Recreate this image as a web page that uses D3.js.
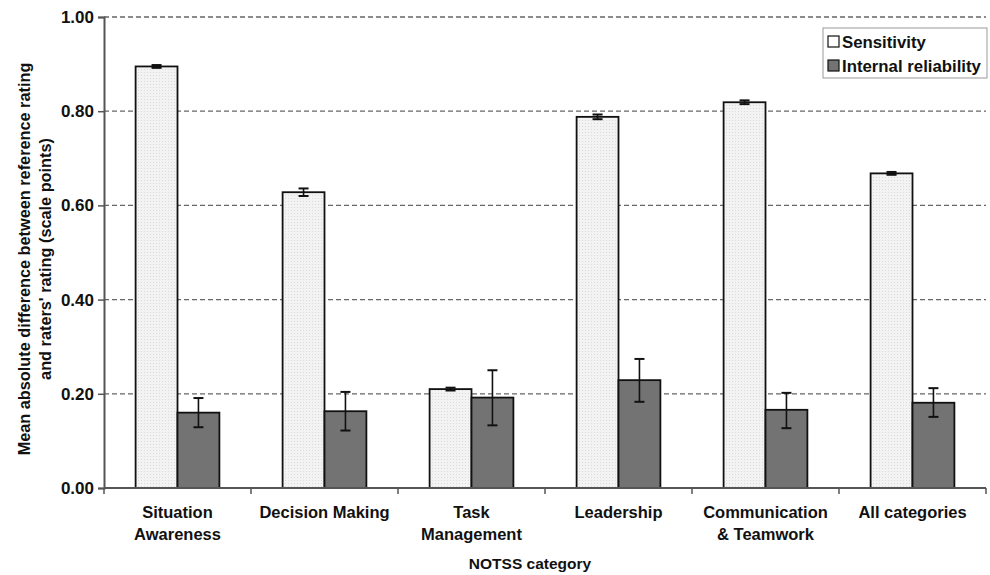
<!DOCTYPE html>
<html><head><meta charset="utf-8">
<script src="https://cdn.jsdelivr.net/npm/d3@7"></script>
<style>body{margin:0;background:#fff}svg{display:block;font-family:"Liberation Sans",Arial,sans-serif;font-weight:bold}</style>
</head><body><svg id="c" width="990" height="575"></svg>
<script>
const categories = [["Situation","Awareness"],["Decision Making"],["Task","Management"],["Leadership"],["Communication","& Teamwork"],["All categories"]];
const seriesNames = ["Sensitivity","Internal reliability"];
const sensitivity = [0.895,0.628,0.210,0.788,0.819,0.668];
const sensitivityErr = [0.003,0.008,0.003,0.005,0.004,0.003];
const internalRel = [0.160,0.163,0.192,0.229,0.166,0.181];
const internalLow = [0.129,0.122,0.133,0.183,0.127,0.151];
const internalHigh = [0.191,0.204,0.250,0.274,0.202,0.212];
const yTicks = [0,0.2,0.4,0.6,0.8,1.0];
const colors = ["#efefef","#737373"];

const svg = d3.select("#c");
const m = {l:104, r:986, t:17, b:488};
const x = d3.scaleBand().domain(d3.range(categories.length)).range([m.l,m.r]).paddingInner(0).paddingOuter(0);
const y = d3.scaleLinear().domain([0,1]).range([m.b,m.t]);
const barW = x.bandwidth()*0.285;

const defs = svg.append("defs");
const pat = defs.append("pattern").attr("id","dots").attr("width",3).attr("height",3).attr("patternUnits","userSpaceOnUse");
pat.append("rect").attr("width",3).attr("height",3).attr("fill","#f3f3f3");
pat.append("rect").attr("width",1).attr("height",1).attr("fill","#dadada");

// grid
svg.append("g").selectAll("line").data(yTicks.filter(d=>d>0)).join("line")
  .attr("x1",m.l).attr("x2",m.r).attr("y1",d=>y(d)).attr("y2",d=>y(d))
  .attr("stroke","#666").attr("stroke-width",1.3).attr("stroke-dasharray","5,3");

// y axis
const ya = svg.append("g").attr("transform",`translate(${m.l},0)`)
  .call(d3.axisLeft(y).tickValues(yTicks).tickFormat(d3.format(".2f")).tickSize(6).tickPadding(4));
ya.select(".domain").attr("stroke","#555").attr("stroke-width",2);
ya.selectAll(".tick line").attr("stroke","#555").attr("stroke-width",1.5);
ya.selectAll("text").attr("font-size",17).attr("font-weight","bold").attr("fill","#111").attr("font-family","'Liberation Sans',Arial,sans-serif");

// bars
const g = svg.append("g");
categories.forEach((c,i)=>{
  const cx = x(i)+x.bandwidth()/2;
  g.append("rect").attr("x",cx-barW).attr("y",y(sensitivity[i])).attr("width",barW).attr("height",y(0)-y(sensitivity[i]))
    .attr("fill","url(#dots)").attr("stroke","#111").attr("stroke-width",1.8);
  g.append("rect").attr("x",cx).attr("y",y(internalRel[i])).attr("width",barW).attr("height",y(0)-y(internalRel[i]))
    .attr("fill",colors[1]).attr("stroke","#111").attr("stroke-width",1.8);
  const ex1 = cx-barW/2, ex2 = cx+barW/2;
  const eb = (ex,lo,hi)=>{
    g.append("line").attr("x1",ex).attr("x2",ex).attr("y1",y(lo)).attr("y2",y(hi)).attr("stroke","#111").attr("stroke-width",1.6);
    [lo,hi].forEach(v=>g.append("line").attr("x1",ex-5).attr("x2",ex+5).attr("y1",y(v)).attr("y2",y(v)).attr("stroke","#111").attr("stroke-width",2));
  };
  eb(ex1,sensitivity[i]-sensitivityErr[i],sensitivity[i]+sensitivityErr[i]);
  eb(ex2,internalLow[i],internalHigh[i]);
});

// x axis
const xa = svg.append("g");
xa.append("line").attr("x1",m.l).attr("x2",m.r).attr("y1",m.b).attr("y2",m.b).attr("stroke","#555").attr("stroke-width",2);
xa.selectAll("line.t").data(d3.range(categories.length+1)).join("line").attr("class","t")
  .attr("x1",d=>m.l+d*x.bandwidth()).attr("x2",d=>m.l+d*x.bandwidth()).attr("y1",m.b).attr("y2",m.b+6)
  .attr("stroke","#555").attr("stroke-width",1.5);
categories.forEach((c,i)=>{
  const t = xa.append("text").attr("x",x(i)+x.bandwidth()/2).attr("y",518).attr("text-anchor","middle")
    .attr("font-size",16.5).attr("fill","#111");
  c.forEach((s,k)=>t.append("tspan").attr("x",x(i)+x.bandwidth()/2).attr("dy",k?22:0).text(s));
});
svg.append("text").attr("x",530).attr("y",569).attr("text-anchor","middle").attr("font-size",15.5).attr("fill","#111").text("NOTSS category");

// y title
const yt = svg.append("text").attr("transform","translate(30,259) rotate(-90)").attr("text-anchor","middle").attr("font-size",16.3).attr("fill","#111");
yt.append("tspan").attr("x",0).attr("dy",0).text("Mean absolute difference between reference rating");
yt.append("tspan").attr("x",0).attr("dy",21).text("and raters' rating (scale points)");

// legend
const lg = svg.append("g");
lg.append("rect").attr("x",823).attr("y",28).attr("width",164).attr("height",50).attr("fill","#fff").attr("stroke","#999").attr("stroke-width",1);
seriesNames.forEach((s,i)=>{
  const yy = 36+i*24;
  lg.append("rect").attr("x",828).attr("y",yy).attr("width",11).attr("height",11)
    .attr("fill",i?colors[1]:"#fff").attr("stroke","#111").attr("stroke-width",1.2);
  lg.append("text").attr("x",842).attr("y",yy+11.5).attr("font-size",16.8).attr("fill","#111").text(s);
});
</script></body></html>
